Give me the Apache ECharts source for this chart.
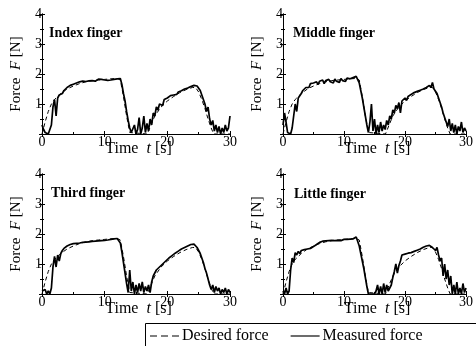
<!DOCTYPE html>
<html><head><meta charset="utf-8">
<script src="https://cdn.jsdelivr.net/npm/echarts@6/dist/echarts.min.js"></script>
<style>html,body{margin:0;padding:0;background:#fff}#c{width:476px;height:346px}</style>
</head><body><div id="c"></div>
<script>
const fingers = ["Index finger", "Middle finger", "Third finger", "Little finger"];
const xTicks = [0, 10, 20, 30];
const yTicks = [1, 2, 3, 4];
const times = [0,0.25,0.5,0.75,1,1.25,1.5,1.75,2,2.25,2.5,2.75,3,3.25,3.5,3.75,4,4.25,4.5,4.75,5,5.25,5.5,5.75,6,6.25,6.5,6.75,7,7.25,7.5,7.75,8,8.25,8.5,8.75,9,9.25,9.5,9.75,10,10.25,10.5,10.75,11,11.25,11.5,11.75,12,12.25,12.5,12.75,13,13.25,13.5,13.75,14,14.25,14.5,14.75,15,15.25,15.5,15.75,16,16.25,16.5,16.75,17,17.25,17.5,17.75,18,18.25,18.5,18.75,19,19.25,19.5,19.75,20,20.25,20.5,20.75,21,21.25,21.5,21.75,22,22.25,22.5,22.75,23,23.25,23.5,23.75,24,24.25,24.5,24.75,25,25.25,25.5,25.75,26,26.25,26.5,26.75,27,27.25,27.5,27.75,28,28.25,28.5,28.75,29,29.25,29.5,29.75,30];

const indexMeasured = [0.3,0.15,0.05,0,0,0.05,0.3,0.9,1.15,0.6,1.2,1.3,1.25,1.35,1.45,1.5,1.55,1.6,1.62,1.58,1.66,1.68,1.7,1.72,1.74,1.72,1.76,1.78,1.75,1.8,1.77,1.82,1.78,1.81,1.76,1.8,1.83,1.78,1.82,1.77,1.8,1.84,1.79,1.83,1.8,1.86,1.82,1.88,1.84,1.9,1.85,1.65,1.35,1.1,0.75,0.45,0.2,0.05,0,0.3,0,0.15,0.55,0,0.2,0.6,0.05,0.35,0.1,0.5,0.3,0.7,0.6,0.9,0.8,1.0,1.05,0.95,1.15,1.1,1.2,1.15,1.28,1.25,1.3,1.36,1.32,1.4,1.38,1.44,1.42,1.5,1.47,1.53,1.5,1.58,1.55,1.62,1.68,1.6,1.55,1.45,1.3,1.15,1.0,0.75,0.9,0.5,0.3,0.45,0.1,0.3,0.05,0.25,0,0.2,0.05,0.3,0.1,0.2,0.6];

const middleMeasured = [0.3,0.7,0.4,0.05,0,0,0.2,0.6,1.0,0.75,1.2,1.25,1.35,1.45,1.5,1.55,1.6,1.55,1.68,1.62,1.7,1.66,1.74,1.65,1.76,1.7,1.8,1.68,1.78,1.72,1.82,1.74,1.8,1.7,1.83,1.76,1.8,1.72,1.85,1.78,1.82,1.75,1.86,1.8,1.84,1.78,1.88,1.82,1.92,1.86,1.7,1.45,1.2,0.9,0.6,0.3,0.05,0.4,1.0,0.1,0.5,0,0.3,0.05,0.4,0.1,0.3,0.15,0.45,0.3,0.6,0.5,0.8,0.7,0.95,0.85,1.05,0.7,1.1,1.05,1.2,1.12,1.25,1.2,1.32,1.28,1.38,1.34,1.42,1.38,1.46,1.42,1.5,1.46,1.55,1.5,1.62,1.55,1.72,1.5,1.45,1.35,1.2,1.05,0.9,0.7,0.55,0.4,0.25,0.5,0.1,0.35,0.05,0.3,0,0.25,0.1,0.4,0.05,0.2,0.1];

const thirdMeasured = [0.1,0.05,0.15,0,0.1,0,0.2,0.9,1.25,0.9,1.3,1.1,1.35,1.45,1.52,1.55,1.6,1.63,1.65,1.67,1.68,1.7,1.69,1.72,1.7,1.73,1.72,1.75,1.73,1.76,1.74,1.77,1.75,1.78,1.76,1.79,1.77,1.8,1.78,1.82,1.79,1.83,1.8,1.84,1.82,1.86,1.84,1.89,1.85,1.88,1.7,1.4,1.05,0.7,0.35,0.05,0.8,0.1,0.4,0,0.3,0.05,0.35,0.1,0.4,0.05,0.25,0.1,0.3,0.05,0.4,0.6,0.7,0.8,0.75,0.9,0.95,1.0,1.05,1.1,1.15,1.2,1.25,1.28,1.32,1.36,1.4,1.43,1.46,1.5,1.52,1.55,1.58,1.6,1.62,1.65,1.63,1.66,1.6,1.55,1.45,1.35,1.2,1.05,0.85,0.7,0.5,0.3,0.15,0.3,0.05,0.25,0.1,0.2,0,0.15,0.05,0.2,0,0.15,0.05];

const littleMeasured = [0.1,0,0.2,0,0.1,0.8,1.2,1.05,1.38,1.3,1.42,1.35,1.45,1.4,1.48,1.42,1.5,1.45,1.52,1.48,1.58,1.55,1.65,1.68,1.72,1.74,1.76,1.78,1.77,1.8,1.78,1.8,1.79,1.81,1.78,1.8,1.79,1.81,1.78,1.8,1.82,1.79,1.82,1.8,1.83,1.81,1.84,1.86,1.9,1.85,1.6,1.35,1.1,0.85,0.55,0.25,0,0,0,0,0,0.1,0.3,0,0.25,0,0.35,0.05,0.3,0.1,0.2,0.3,0.55,0.75,1.0,0.7,0.95,1.1,1.3,1.28,1.33,1.3,1.36,1.34,1.38,1.36,1.42,1.4,1.46,1.44,1.5,1.52,1.56,1.53,1.6,1.55,1.62,1.58,1.55,1.5,1.45,1.55,1.3,1.1,1.2,0.6,1.0,0.5,0.8,0.3,0.6,0,0.3,0,0.4,0,0.2,0,0.35,0.05,0.2];

const desiredT = [0,0.5,1,1.5,2,2.5,3,4,5,6,7,8,9,10,11,12,12.5,13,13.5,14,14.2,16.8,17.5,18,19,20,21,22,23,24,24.5,25,25.5,26,26.5,27,27.4,30];
const desiredF = [0,0.4,0.75,1.0,1.15,1.25,1.35,1.5,1.6,1.68,1.74,1.78,1.8,1.82,1.84,1.85,1.8,1.25,0.6,0.05,0,0,0.35,0.6,0.9,1.1,1.25,1.38,1.48,1.55,1.55,1.4,1.15,0.85,0.5,0.2,0,0];

const measuredSets = [indexMeasured, middleMeasured, thirdMeasured, littleMeasured];

const FONT = "Liberation Serif";
const grids = [
  {left: 42, top: 14, width: 188, height: 120},
  {left: 283, top: 14, width: 190, height: 120},
  {left: 42, top: 174, width: 188, height: 120},
  {left: 283, top: 174, width: 190, height: 120}
];
const titlePos = [[49, 26], [293, 26], [51, 186], [294, 187]];

const xAxes = [], yAxes = [], series = [], titles = [];
grids.forEach((g, i) => {
  xAxes.push({
    gridIndex: i, type: 'value', min: xTicks[0], max: xTicks[xTicks.length-1], interval: 10,
    axisLine: {show: true, lineStyle: {color: '#000', width: 1}},
    axisTick: {show: true, inside: true, length: 3, lineStyle: {color: '#000'}},
    minorTick: {show: true, splitNumber: 2, length: 2, lineStyle: {color: '#000'}},
    splitLine: {show: false},
    axisLabel: {color: '#000', fontFamily: FONT, fontSize: 14, margin: 1},
    name: 'Time  {i|t} [s]', nameLocation: 'middle', nameGap: 7, nameMoveOverlap: false,
    nameTextStyle: {color: '#000', fontFamily: FONT, fontSize: 16, padding: [0, 0, 0, 5],
      rich: {i: {fontStyle: 'italic', fontFamily: FONT, fontSize: 16, color: '#000'}}}
  });
  xAxes.push({
    gridIndex: i, type: 'value', position: 'top', min: 0, max: 30, interval: 10,
    axisLine: {show: true, lineStyle: {color: '#000', width: 1}},
    axisTick: {show: true, inside: true, length: 3, lineStyle: {color: '#000'}},
    axisLabel: {show: false}, splitLine: {show: false}
  });
  yAxes.push({
    gridIndex: i, type: 'value', min: 0, max: 4, interval: 1,
    axisLine: {show: true, lineStyle: {color: '#000', width: 1}},
    axisTick: {show: true, inside: true, length: 3, lineStyle: {color: '#000'}},
    minorTick: {show: true, splitNumber: 2, length: 2, lineStyle: {color: '#000'}},
    splitLine: {show: false},
    axisLabel: {color: '#000', fontFamily: FONT, fontSize: 14, margin: 0,
      formatter: v => yTicks.indexOf(v) >= 0 ? String(v) : ''},
    name: 'Force  {i|F} [N]', nameLocation: 'middle', nameGap: 18, nameRotate: 90, nameMoveOverlap: false,
    nameTextStyle: {color: '#000', fontFamily: FONT, fontSize: 15,
      rich: {i: {fontStyle: 'italic', fontFamily: FONT, fontSize: 15, color: '#000'}}}
  });
  yAxes.push({
    gridIndex: i, type: 'value', position: 'right', min: 0, max: 4, interval: 1,
    axisLine: {show: true, lineStyle: {color: '#000', width: 1}},
    axisTick: {show: true, inside: true, length: 3, lineStyle: {color: '#000'}},
    minorTick: {show: true, splitNumber: 2, length: 2, lineStyle: {color: '#000'}},
    axisLabel: {show: false}, splitLine: {show: false}
  });
  const m = measuredSets[i];
  series.push({
    name: 'Measured force', type: 'line', xAxisIndex: 2*i, yAxisIndex: 2*i,
    data: times.map((t, k) => [t, m[k]]), symbol: 'none', showSymbol: false, animation: false,
    lineStyle: {color: '#000', width: 1.7, type: 'solid'}, itemStyle: {color: '#000'}
  });
  series.push({
    name: 'Desired force', type: 'line', xAxisIndex: 2*i, yAxisIndex: 2*i,
    data: desiredT.map((t, k) => [t, desiredF[k]]), symbol: 'none', showSymbol: false, animation: false,
    lineStyle: {color: '#000', width: 1, type: [4, 3]}, itemStyle: {color: '#000'}
  });
  titles.push({
    text: fingers[i], left: titlePos[i][0], top: titlePos[i][1], padding: 0,
    textStyle: {color: '#000', fontFamily: FONT, fontSize: 14, fontWeight: 'bold'}
  });
});

const chart = echarts.init(document.getElementById('c'), null, {renderer: 'canvas'});
chart.setOption({
  animation: false,
  backgroundColor: '#fff',
  title: titles,
  grid: grids,
  xAxis: xAxes,
  yAxis: yAxes,
  series: series,
  legend: {
    data: [
      {name: 'Desired force', icon: 'path://M0,0H7V1.2H0Z M11,0H18V1.2H11Z M22,0H29V1.2H22Z'},
      {name: 'Measured force', icon: 'path://M0,0H30V1.2H0Z'}
    ],
    left: 150, top: 328, padding: 0, itemWidth: 29, itemHeight: 1.2, itemGap: 22,
    textStyle: {color: '#000', fontFamily: FONT, fontSize: 16, padding: [0, 0, 0, -2]},
    selectedMode: false
  },
  graphic: [{
    type: 'rect', shape: {x: 145.5, y: 323.5, width: 340, height: 26},
    style: {fill: 'none', stroke: '#000', lineWidth: 1}, silent: true
  }]
});
</script></body></html>
